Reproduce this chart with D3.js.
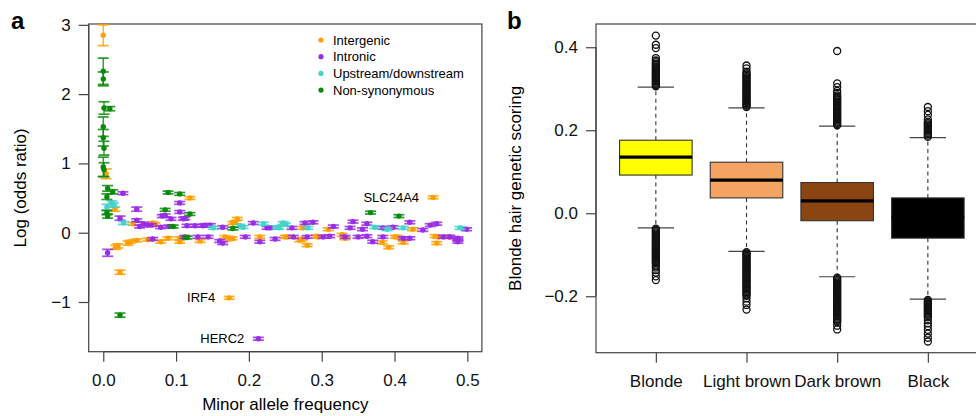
<!DOCTYPE html>
<html>
<head>
<meta charset="utf-8">
<script src="https://cdn.jsdelivr.net/npm/d3@7"></script>
<style>
  body { margin: 0; background: #fff; }
  svg text { font-family: "Liberation Sans", Arial, Helvetica, sans-serif; }
</style>
</head>
<body>
<svg id="chart" width="976" height="416"></svg>
<script>
// ---- panel a data: [minor allele freq, log odds ratio, CI half-width]
const intergenic = [
  [0.000, 2.85, 0.15], [0.004, 0.85, 0.07], [0.119, 0.50, 0.02], [0.016, 0.34, 0.03], [0.041, 0.13, 0.02],
  [0.017, -0.21, 0.03], [0.034, -0.15, 0.03], [0.046, -0.11, 0.02], [0.023, -0.57, 0.03], [0.173, -0.94, 0.02],
  [0.453, 0.51, 0.02], [0.068, 0.14, 0.02], [0.037, -0.13, 0.02], [0.020, -0.19, 0.03], [0.061, -0.10, 0.02],
  [0.079, -0.13, 0.02], [0.089, -0.08, 0.02], [0.105, -0.08, 0.02], [0.071, 0.12, 0.02], [0.181, 0.15, 0.02],
  [0.184, 0.20, 0.02], [0.178, 0.14, 0.02], [0.177, -0.08, 0.02], [0.215, -0.06, 0.02], [0.252, -0.06, 0.02],
  [0.270, -0.11, 0.02], [0.280, -0.18, 0.02], [0.295, -0.06, 0.02], [0.332, -0.08, 0.02], [0.383, -0.14, 0.02],
  [0.392, -0.21, 0.02], [0.403, -0.06, 0.02], [0.412, -0.14, 0.02], [0.458, -0.15, 0.02], [0.456, -0.05, 0.02],
  [0.105, -0.13, 0.02], [0.133, -0.12, 0.02], [0.167, -0.06, 0.02], [0.174, -0.09, 0.02], [0.274, 0.07, 0.02],
  [0.309, 0.05, 0.02], [0.250, -0.06, 0.02], [0.273, -0.09, 0.02], [0.293, -0.05, 0.02], [0.328, -0.03, 0.02],
  [0.401, -0.06, 0.02], [0.425, 0.05, 0.02], [0.476, -0.06, 0.02], [0.460, -0.06, 0.02]
];
const intronic = [
  [0.027, 0.57, 0.02], [0.046, 0.34, 0.03], [0.046, 0.18, 0.02], [0.081, 0.24, 0.02], [0.093, 0.20, 0.02],
  [0.105, 0.43, 0.02], [0.105, 0.30, 0.02], [0.006, -0.29, 0.05], [0.213, -1.53, 0.02], [0.023, 0.21, 0.03],
  [0.055, 0.13, 0.02], [0.061, 0.11, 0.02], [0.066, 0.11, 0.02], [0.079, 0.08, 0.02], [0.085, 0.25, 0.02],
  [0.112, 0.21, 0.02], [0.068, -0.09, 0.02], [0.110, 0.20, 0.02], [0.115, 0.10, 0.02], [0.126, 0.10, 0.02],
  [0.137, 0.10, 0.02], [0.147, 0.11, 0.02], [0.164, 0.08, 0.02], [0.206, 0.14, 0.02], [0.225, 0.07, 0.02],
  [0.112, -0.06, 0.02], [0.144, -0.06, 0.02], [0.160, -0.12, 0.02], [0.164, -0.15, 0.02], [0.195, -0.06, 0.02],
  [0.215, -0.13, 0.02], [0.236, -0.09, 0.02], [0.259, 0.07, 0.02], [0.277, 0.14, 0.02], [0.288, 0.15, 0.02],
  [0.316, 0.09, 0.02], [0.343, 0.16, 0.02], [0.339, 0.07, 0.02], [0.362, 0.13, 0.02], [0.421, 0.15, 0.02],
  [0.439, 0.04, 0.02], [0.449, 0.11, 0.02], [0.458, 0.13, 0.02], [0.499, 0.05, 0.02], [0.261, -0.06, 0.02],
  [0.280, -0.06, 0.02], [0.302, -0.06, 0.02], [0.311, -0.05, 0.02], [0.362, -0.05, 0.02], [0.370, -0.13, 0.02],
  [0.384, -0.06, 0.02], [0.421, -0.08, 0.02], [0.467, -0.06, 0.02], [0.476, -0.06, 0.02], [0.487, -0.08, 0.02],
  [0.487, -0.13, 0.02], [0.356, 0.05, 0.02], [0.332, -0.06, 0.02], [0.350, -0.06, 0.02], [0.384, 0.07, 0.02],
  [0.398, 0.08, 0.02], [0.412, -0.08, 0.02], [0.487, -0.10, 0.02], [0.229, 0.07, 0.02], [0.050, 0.09, 0.02],
  [0.090, 0.09, 0.02], [0.130, -0.06, 0.02], [0.140, 0.11, 0.02]
];
const updown = [
  [0.012, 0.43, 0.03], [0.005, 0.37, 0.04], [0.014, 0.40, 0.03], [0.028, 0.14, 0.02], [0.192, 0.08, 0.02],
  [0.220, 0.13, 0.02], [0.247, 0.14, 0.02], [0.241, 0.07, 0.02], [0.281, 0.07, 0.02], [0.188, 0.10, 0.02],
  [0.239, 0.08, 0.02], [0.250, 0.12, 0.02], [0.373, 0.08, 0.02], [0.390, 0.05, 0.02], [0.412, 0.07, 0.02],
  [0.490, 0.07, 0.02], [0.151, 0.07, 0.02]
];
const nonsyn = [
  [0.000, 2.33, 0.19], [0.000, 2.22, 0.10], [0.001, 1.80, 0.09], [0.009, 1.79, 0.03], [0.000, 1.53, 0.14],
  [0.000, 1.37, 0.12], [0.001, 1.22, 0.10], [0.000, 0.95, 0.14], [0.001, 0.91, 0.10], [0.006, 0.64, 0.04],
  [0.013, 0.59, 0.03], [0.005, 0.52, 0.04], [0.089, 0.58, 0.02], [0.105, 0.56, 0.02], [0.085, 0.33, 0.02],
  [0.119, 0.27, 0.02], [0.005, 0.29, 0.03], [0.006, 0.24, 0.03], [0.096, 0.09, 0.02], [0.023, -1.19, 0.03],
  [0.367, 0.29, 0.02], [0.406, 0.24, 0.02], [0.178, 0.06, 0.02], [0.115, -0.07, 0.02]
];
const seriesNames = ["Intergenic", "Intronic", "Upstream/downstream", "Non-synonymous"];
const seriesColors = ["#ffa000", "#9a2ee6", "#45d3cb", "#0a8a0a"];
const geneNames = ["SLC24A4", "IRF4", "HERC2"];
const genePoints = [[0.453, 0.51], [0.173, -0.94], [0.213, -1.53]];
const xTicksA = [0, 0.1, 0.2, 0.3, 0.4, 0.5];
const yTicksA = [-1, 0, 1, 2, 3];

// ---- panel b data
const hairCats = ["Blonde", "Light brown", "Dark brown", "Black"];
const hairColors = ["#ffff00", "#f4a460", "#8b4513", "#000000"];
const q1 = [0.092, 0.037, -0.018, -0.060];
const med = [0.135, 0.080, 0.030, -0.010];
const q3 = [0.176, 0.123, 0.074, 0.037];
const whiskLo = [-0.035, -0.092, -0.153, -0.207];
const whiskHi = [0.304, 0.254, 0.210, 0.182];
const outHigh = [
  [0.306, 0.309, 0.312, 0.315, 0.318, 0.321, 0.324, 0.327, 0.330, 0.333, 0.336, 0.339, 0.342, 0.345, 0.348,
   0.351, 0.354, 0.357, 0.360, 0.364, 0.368, 0.374, 0.398, 0.406, 0.428],
  [0.256, 0.259, 0.262, 0.265, 0.268, 0.271, 0.274, 0.277, 0.280, 0.283, 0.286, 0.289, 0.292, 0.295, 0.298,
   0.301, 0.304, 0.307, 0.310, 0.313, 0.316, 0.319, 0.322, 0.325, 0.328, 0.331, 0.334, 0.337, 0.341, 0.349, 0.356],
  [0.212, 0.215, 0.218, 0.221, 0.224, 0.227, 0.230, 0.233, 0.236, 0.239, 0.242, 0.245, 0.248, 0.251, 0.254,
   0.257, 0.260, 0.263, 0.266, 0.269, 0.272, 0.275, 0.278, 0.281, 0.284, 0.290, 0.295, 0.304, 0.313, 0.391],
  [0.184, 0.187, 0.190, 0.193, 0.196, 0.199, 0.202, 0.205, 0.208, 0.211, 0.214, 0.217, 0.220, 0.226, 0.237,
   0.246, 0.256]
];
const outLow = [
  [-0.037, -0.040, -0.043, -0.046, -0.049, -0.052, -0.055, -0.058, -0.061, -0.064, -0.067, -0.070, -0.073,
   -0.076, -0.079, -0.082, -0.085, -0.088, -0.091, -0.094, -0.097, -0.100, -0.103, -0.106, -0.109, -0.112,
   -0.115, -0.118, -0.121, -0.126, -0.131, -0.137, -0.143, -0.152, -0.161],
  [-0.094, -0.097, -0.100, -0.103, -0.106, -0.109, -0.112, -0.115, -0.118, -0.121, -0.124, -0.127, -0.130,
   -0.133, -0.136, -0.139, -0.142, -0.145, -0.148, -0.151, -0.154, -0.157, -0.160, -0.163, -0.166, -0.169,
   -0.172, -0.175, -0.178, -0.181, -0.184, -0.187, -0.190, -0.193, -0.196, -0.199, -0.205, -0.213, -0.221, -0.232],
  [-0.155, -0.158, -0.161, -0.164, -0.167, -0.170, -0.173, -0.176, -0.179, -0.182, -0.185, -0.188, -0.191,
   -0.194, -0.197, -0.200, -0.203, -0.206, -0.209, -0.212, -0.215, -0.218, -0.221, -0.224, -0.227, -0.230,
   -0.233, -0.236, -0.239, -0.242, -0.245, -0.248, -0.251, -0.254, -0.257, -0.260, -0.263, -0.271, -0.280],
  [-0.209, -0.212, -0.215, -0.218, -0.221, -0.224, -0.227, -0.230, -0.233, -0.236, -0.239, -0.242, -0.245,
   -0.248, -0.251, -0.258, -0.265, -0.272, -0.281, -0.290, -0.300, -0.309]
];
const yTicksB = [-0.2, 0, 0.2, 0.4];

const fmtMinus = s => s.replace("-", "\u2212");
const svg = d3.select("#chart");
const axisCol = "#444";
const fs = 17;

// ================= panel a =================
const xA = d3.scaleLinear().domain([-0.02, 0.52]).range([88.7, 481.9]);
const yA = d3.scaleLinear().domain([-1.717, 3.012]).range([351.7, 24]);
const gA = svg.append("g");

gA.append("rect")
    .attr("x", xA.range()[0]).attr("y", yA.range()[1])
    .attr("width", xA.range()[1] - xA.range()[0])
    .attr("height", yA.range()[0] - yA.range()[1])
    .attr("fill", "none").attr("stroke", axisCol).attr("stroke-width", 1.2);

const axA = gA.append("g").attr("transform", `translate(0,${yA.range()[0]})`)
    .call(d3.axisBottom(xA).tickValues(xTicksA).tickFormat(d3.format(".1f")).tickSize(10).tickPadding(12));
const ayA = gA.append("g").attr("transform", `translate(${xA.range()[0]},0)`)
    .call(d3.axisLeft(yA).tickValues(yTicksA).tickFormat(d => fmtMinus(String(d))).tickSize(10).tickPadding(8));
[axA, ayA].forEach(a => {
  a.select(".domain").remove();
  a.selectAll("line").attr("stroke", axisCol).attr("stroke-width", 1.2);
  a.selectAll("text").attr("font-size", fs).attr("fill", "#111")
      .style("font-family", "'Liberation Sans', Arial, sans-serif");
});
axA.append("line").attr("x1", xA(0)).attr("x2", xA(0.5)).attr("stroke", axisCol).attr("stroke-width", 1.2);
ayA.append("line").attr("y1", yA(-1)).attr("y2", yA(3)).attr("stroke", axisCol).attr("stroke-width", 1.2);

gA.append("text").attr("x", (xA(0) + xA(0.5)) / 2).attr("y", 410)
    .attr("text-anchor", "middle").attr("font-size", fs).text("Minor allele frequency");
gA.append("text").attr("transform", `translate(26,${(yA(-1.717) + yA(3.012)) / 2}) rotate(-90)`)
    .attr("text-anchor", "middle").attr("font-size", fs).text("Log (odds ratio)");

const capW = 5.5;
[intergenic, intronic, updown, nonsyn].forEach((series, si) => {
  const col = seriesColors[si];
  const g = gA.append("g");
  const pts = g.selectAll("g").data(series).join("g");
  pts.append("line")
      .attr("x1", d => xA(d[0])).attr("x2", d => xA(d[0]))
      .attr("y1", d => yA(d[1] - d[2])).attr("y2", d => yA(d[1] + d[2]))
      .attr("stroke", col).attr("stroke-width", 1.4).attr("opacity", 0.85);
  [-1, 1].forEach(s => {
    pts.append("line")
        .attr("x1", d => xA(d[0]) - capW).attr("x2", d => xA(d[0]) + capW)
        .attr("y1", d => yA(d[1] + s * d[2])).attr("y2", d => yA(d[1] + s * d[2]))
        .attr("stroke", col).attr("stroke-width", 1.7).attr("opacity", 0.85);
  });
  pts.append("circle").attr("cx", d => xA(d[0])).attr("cy", d => yA(d[1]))
      .attr("r", 2.7).attr("fill", col);
});

gA.selectAll(".gene").data(geneNames).join("text").attr("class", "gene")
    .attr("x", (d, i) => xA(genePoints[i][0]) - 14)
    .attr("y", (d, i) => yA(genePoints[i][1]))
    .attr("dy", "0.35em").attr("text-anchor", "end").attr("font-size", 13).text(d => d);

const leg = gA.append("g");
leg.selectAll("circle").data(seriesNames).join("circle")
    .attr("cx", 321).attr("cy", (d, i) => 40 + i * 16.7).attr("r", 2.6)
    .attr("fill", (d, i) => seriesColors[i]);
leg.selectAll("text").data(seriesNames).join("text")
    .attr("x", 333).attr("y", (d, i) => 40 + i * 16.7).attr("dy", "0.35em")
    .attr("font-size", 13).text(d => d);

svg.append("text").attr("x", 11).attr("y", 29).attr("font-size", 24)
    .attr("font-weight", "bold").text("a");

// ================= panel b =================
const xB = d3.scaleLinear().domain([0.34, 4.66]).range([596, 987.7]);
const yB = d3.scaleLinear().domain([-0.336, 0.456]).range([352.7, 24]);
const gB = svg.append("g");
const unit = xB(2) - xB(1);
const boxW = 0.8 * unit, capB = 0.4 * unit;

gB.append("rect")
    .attr("x", xB.range()[0]).attr("y", yB.range()[1])
    .attr("width", xB.range()[1] - xB.range()[0])
    .attr("height", yB.range()[0] - yB.range()[1])
    .attr("fill", "none").attr("stroke", axisCol).attr("stroke-width", 1.2);

const ayB = gB.append("g").attr("transform", `translate(${xB.range()[0]},0)`)
    .call(d3.axisLeft(yB).tickValues(yTicksB).tickFormat(d => fmtMinus(d3.format(".1f")(d))).tickSize(10).tickPadding(8));
const axB = gB.append("g").attr("transform", `translate(0,${yB.range()[0]})`)
    .call(d3.axisBottom(xB).tickValues([1, 2, 3, 4]).tickFormat((d, i) => hairCats[i]).tickSize(10).tickPadding(12));
[axB, ayB].forEach(a => {
  a.select(".domain").remove();
  a.selectAll("line").attr("stroke", axisCol).attr("stroke-width", 1.2);
  a.selectAll("text").attr("font-size", fs).attr("fill", "#111")
      .style("font-family", "'Liberation Sans', Arial, sans-serif");
});
ayB.append("line").attr("y1", yB(-0.2)).attr("y2", yB(0.4)).attr("stroke", axisCol).attr("stroke-width", 1.2);

gB.append("text").attr("transform", `translate(521,${(yB(-0.336) + yB(0.456)) / 2}) rotate(-90)`)
    .attr("text-anchor", "middle").attr("font-size", fs).text("Blonde hair genetic scoring");

hairCats.forEach((c, i) => {
  const cx = xB(i + 1);
  const g = gB.append("g");
  // whiskers
  g.append("line").attr("x1", cx).attr("x2", cx).attr("y1", yB(q3[i])).attr("y2", yB(whiskHi[i]))
      .attr("stroke", "#333").attr("stroke-width", 1.1).attr("stroke-dasharray", "4,3.5");
  g.append("line").attr("x1", cx).attr("x2", cx).attr("y1", yB(q1[i])).attr("y2", yB(whiskLo[i]))
      .attr("stroke", "#333").attr("stroke-width", 1.1).attr("stroke-dasharray", "4,3.5");
  [whiskHi[i], whiskLo[i]].forEach(v => {
    g.append("line").attr("x1", cx - capB / 2).attr("x2", cx + capB / 2)
        .attr("y1", yB(v)).attr("y2", yB(v)).attr("stroke", "#444").attr("stroke-width", 1.2);
  });
  // box
  g.append("rect").attr("x", cx - boxW / 2).attr("y", yB(q3[i]))
      .attr("width", boxW).attr("height", yB(q1[i]) - yB(q3[i]))
      .attr("fill", hairColors[i]).attr("stroke", "#333").attr("stroke-width", 1.1);
  g.append("line").attr("x1", cx - boxW / 2).attr("x2", cx + boxW / 2)
      .attr("y1", yB(med[i])).attr("y2", yB(med[i]))
      .attr("stroke", "#000").attr("stroke-width", 3.2);
  // outliers
  g.selectAll("circle").data(outHigh[i].concat(outLow[i])).join("circle")
      .attr("cx", cx).attr("cy", d => yB(d)).attr("r", 3.5)
      .attr("fill", "none").attr("stroke", "#111").attr("stroke-width", 1.3);
});

svg.append("text").attr("x", 507).attr("y", 29).attr("font-size", 24)
    .attr("font-weight", "bold").text("b");
</script>
</body>
</html>
